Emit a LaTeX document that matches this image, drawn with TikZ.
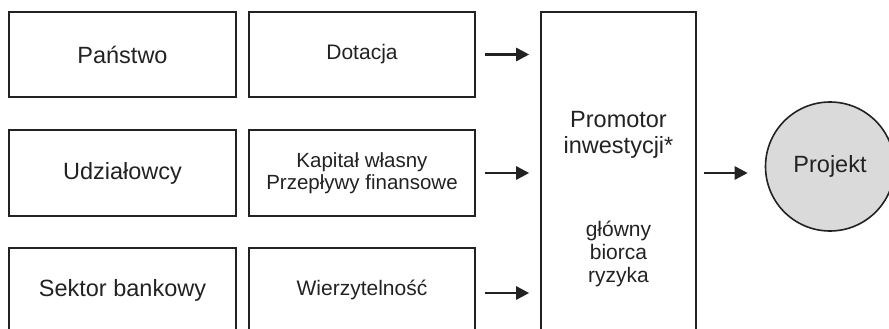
\documentclass[tikz,border=0pt]{standalone}
\usepackage{fontspec}
\setmainfont{Liberation Sans}
\usetikzlibrary{arrows.meta}
\definecolor{ink}{HTML}{222222}
\definecolor{fillg}{HTML}{DADADA}
\begin{document}
\begin{tikzpicture}[x=1pt,y=-1pt,
  box/.style={draw=ink, line width=1.6pt, inner sep=0pt, text=ink, align=center},
  bigf/.style={font=\fontsize{23.5}{27}\selectfont},
  midf/.style={font=\fontsize{21}{22}\selectfont},
  arr/.style={draw=ink, line width=2.6pt, -{Triangle[length=13pt,width=13pt]}},
  lab/.style={text=ink, align=center, inner sep=0pt}
]
\useasboundingbox (0,0) rectangle (889,329);
\clip (0,0) rectangle (889,329);
\node[box, bigf, minimum width=227pt, minimum height=85pt] (A1) at (122.5,54.5) {Państwo};
\node[box, midf, minimum width=226pt, minimum height=85pt] (B1) at (362,54.5) {Dotacja};
\node[box, bigf, minimum width=227pt, minimum height=86pt] (A2) at (122.5,173) {Udziałowcy};
\node[box, font=\fontsize{20.5}{21.5}\selectfont, minimum width=226pt, minimum height=86pt] (B2) at (362,173) {Kapitał własny\\Przepływy finansowe};
\node[box, bigf, minimum width=227pt, minimum height=90pt] (A3) at (122.5,293) {};
\node[box, midf, minimum width=226pt, minimum height=90pt] (B3) at (362,293) {};
\node[lab, bigf] (A3t) at (122.5,290) {Sektor bankowy};
\node[lab, midf] (B3t) at (362,290) {Wierzytelność};
\node[box, minimum width=155pt, minimum height=322pt] (P) at (618.5,173) {};
\node[lab, font=\fontsize{23.5}{26}\selectfont] (Pt) at (618.5,135) {Promotor\\inwestycji*};
\node[lab, font=\fontsize{21}{23}\selectfont] (Rt) at (618.5,254) {główny\\biorca\\ryzyka};
\node[circle, draw=ink, line width=1.6pt, fill=fillg, minimum size=129pt, inner sep=0pt, text=ink, bigf] (J) at (830,166.5) {Projekt};
\draw[arr, shorten <=9pt, shorten >=11pt] (B1.east) -- (B1.east -| P.west);
\draw[arr, shorten <=9pt, shorten >=11pt] (B2.east) -- (B2.east -| P.west);
\draw[arr, shorten <=9pt, shorten >=11pt] (B3.east) -- (B3.east -| P.west);
\draw[arr, shorten <=7pt, shorten >=17pt] (P.east) -- (P.east -| J.west);
\end{tikzpicture}
\end{document}
